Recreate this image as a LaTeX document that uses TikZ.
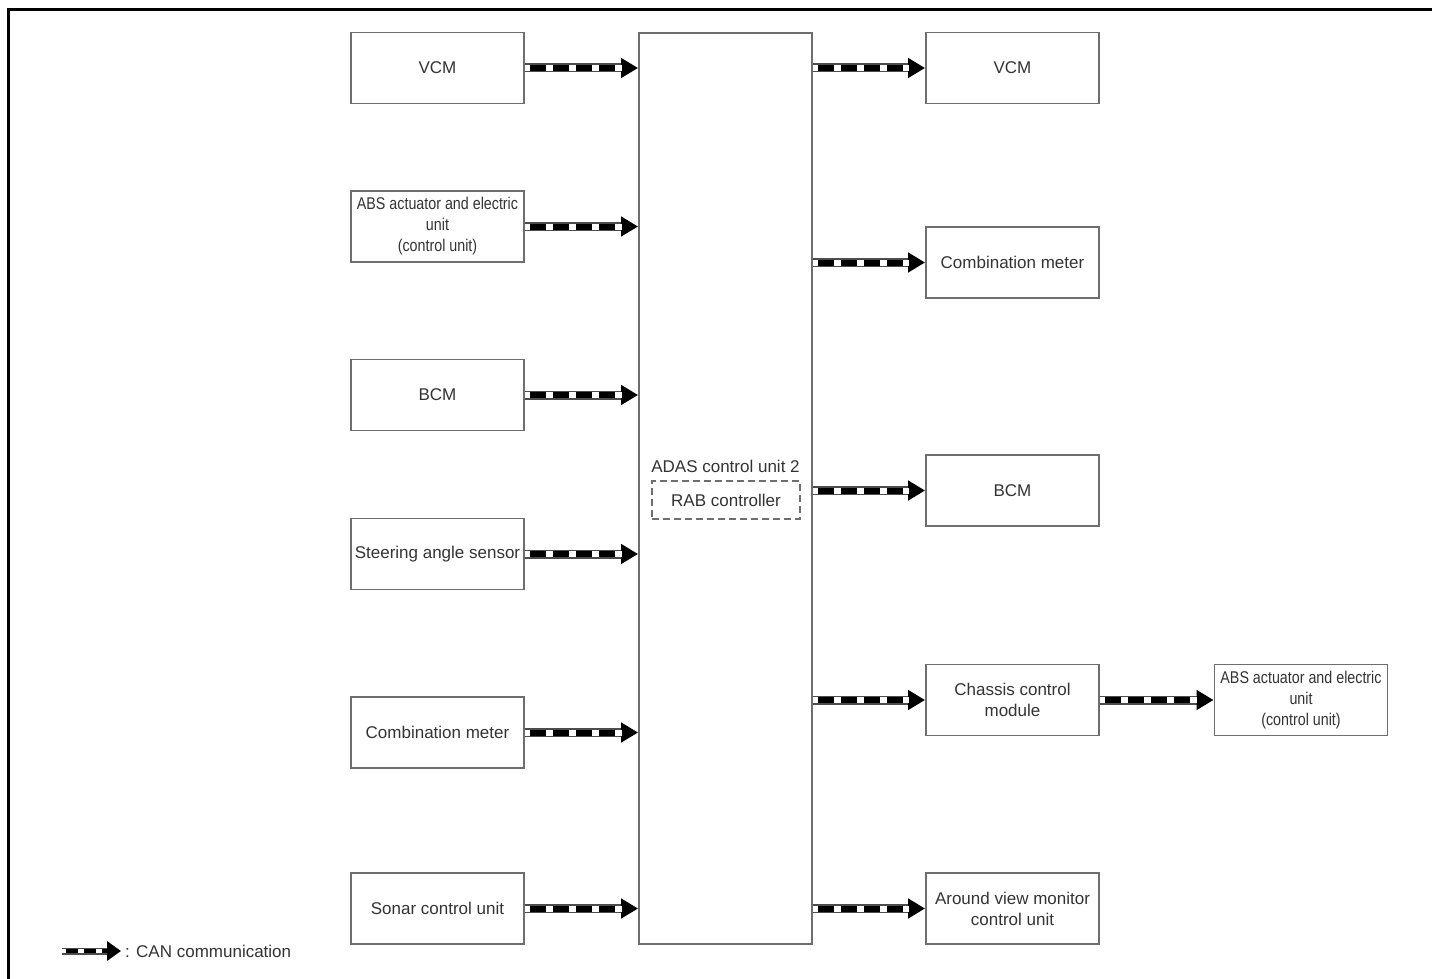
\documentclass[tikz,border=0pt]{standalone}
\usepackage{fontspec}
\setmainfont{Liberation Sans}
\newfontfamily\narrowfont[FakeStretch=0.84]{Liberation Sans}
\usepackage{xcolor}
\usetikzlibrary{arrows.meta, positioning}
\definecolor{boxgray}{HTML}{6E6E6E}
\definecolor{txtgray}{HTML}{333333}

\begin{document}
\begin{tikzpicture}[x=1pt, y=-1pt, font=\fontsize{17}{21}\selectfont, text=txtgray,
    unit/.style={draw=boxgray, line width=1.8pt, minimum width=173pt, minimum height=71pt, inner sep=0pt, align=center},
    absunit/.style={unit, font=\narrowfont\fontsize{17}{21}\selectfont},
    can/.style={draw=black!70, line width=9pt, -{Triangle[length=17pt 0 0, width=19pt 0 0, color=black]},
        postaction={draw=white, line width=6pt, -, shorten >=16pt},
        postaction={draw=black, line width=6pt, -, shorten >=16pt, dash pattern=on 16pt off 7pt, dash phase=18pt}},
    canlegend/.style={draw=black!70, line width=7pt, -{Triangle[length=14pt 0 0, width=19pt 0 0, color=black]},
        postaction={draw=white, line width=4.5pt, -, shorten >=13pt},
        postaction={draw=black, line width=4.5pt, -, shorten >=13pt, dash pattern=on 12pt off 6pt, dash phase=14pt}}]
    \useasboundingbox (0,0) rectangle (1432,979);
    \draw[line width=3pt] (8,979) -- (8,10) -- (1432,10);

    % central unit
    \node[unit, minimum width=173pt, minimum height=911pt] (adas) at (725.5,488.5) {};
    \node (adastxt) at (725.5,466) {ADAS control unit 2};
    \node[draw=boxgray, dash pattern=on 7pt off 4pt, line width=1.6pt, minimum width=148pt, minimum height=38pt, inner sep=0pt] (rab) at (726,500) {RAB controller};

    % inputs
    \node[unit] (lvcm) at (437.5,68) {VCM};
    \node[absunit] (labs) at (437.5,226.5) {ABS actuator and electric\\unit\\(control unit)};
    \node[unit] (lbcm) at (437.5,395) {BCM};
    \node[unit] (lsas) at (437.5,554) {Steering angle sensor};
    \node[unit] (lmeter) at (437.5,732.5) {Combination meter};
    \node[unit] (lsonar) at (437.5,908.5) {Sonar control unit};

    % outputs
    \node[unit] (rvcm) at (1012.5,68) {VCM};
    \node[unit] (rmeter) at (1012.5,262.5) {Combination meter};
    \node[unit] (rbcm) at (1012.5,490.5) {BCM};
    \node[unit] (chassis) at (1012.5,700) {Chassis control\\module};
    \node[unit] (avm) at (1012.5,908.5) {Around view monitor\\control unit};
    \node[absunit] (rabs) at (1301,700) {ABS actuator and electric\\unit\\(control unit)};

    \draw[can] (lvcm.east) -- (lvcm.east -| adas.west);
    \draw[can] (labs.east) -- (labs.east -| adas.west);
    \draw[can] (lbcm.east) -- (lbcm.east -| adas.west);
    \draw[can] (lsas.east) -- (lsas.east -| adas.west);
    \draw[can] (lmeter.east) -- (lmeter.east -| adas.west);
    \draw[can] (lsonar.east) -- (lsonar.east -| adas.west);

    \draw[can] (adas.east |- rvcm.west) -- (rvcm.west);
    \draw[can] (adas.east |- rmeter.west) -- (rmeter.west);
    \draw[can] (adas.east |- rbcm.west) -- (rbcm.west);
    \draw[can] (adas.east |- chassis.west) -- (chassis.west);
    \draw[can] (adas.east |- avm.west) -- (avm.west);
    \draw[can] (chassis.east) -- (rabs.west);

    % legend
    \coordinate (legA) at (62,951);
    \node[anchor=west, inner sep=0pt] (legtxt) at (125,951) {: CAN communication};
    \draw[canlegend] (legA) -- ([xshift=-4pt]legtxt.west);
\end{tikzpicture}
\end{document}
